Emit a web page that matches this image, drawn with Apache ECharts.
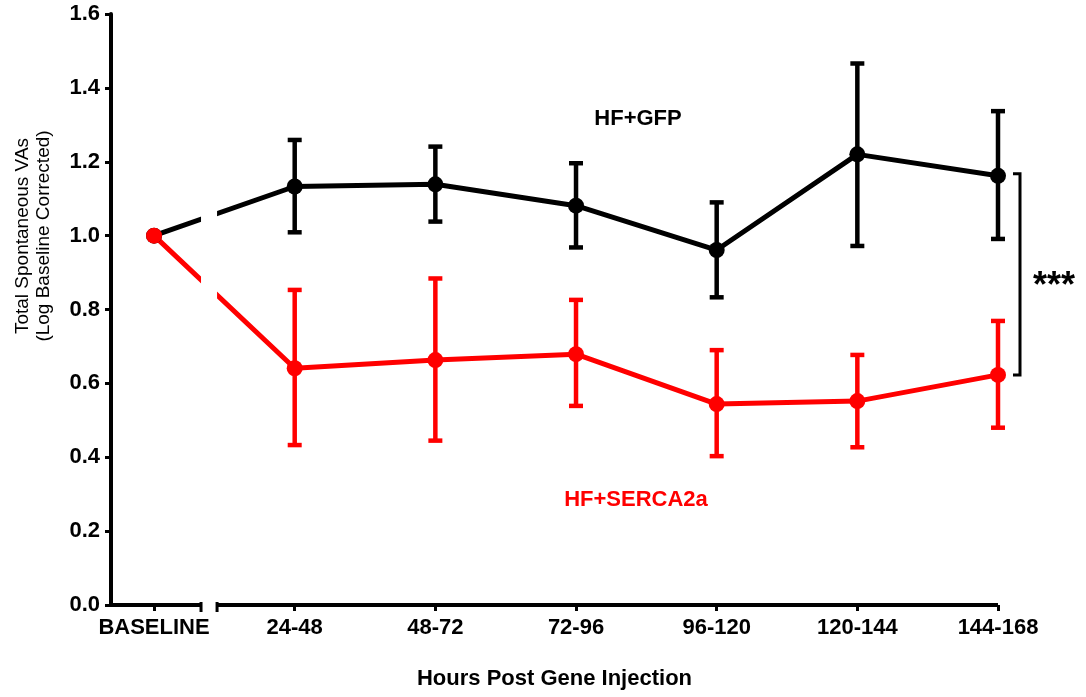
<!DOCTYPE html>
<html>
<head>
<meta charset="utf-8">
<script src="https://cdn.jsdelivr.net/npm/echarts@6/dist/echarts.min.js"></script>
<style>
  html, body { margin: 0; padding: 0; background: #fff; }
  #chart { width: 1086px; height: 697px; }
</style>
</head>
<body>
<div id="chart"></div>
<script>
// time windows (x = index, 0 is baseline)
const categories = ['BASELINE', '24-48', '48-72', '72-96', '96-120', '120-144', '144-168'];

// HF+GFP
const gfpMean = [1.0, 1.133, 1.139, 1.081, 0.961, 1.220, 1.162];
const gfpLow  = [null, 1.009, 1.038, 0.968, 0.833, 0.972, 0.991];
const gfpHigh = [null, 1.259, 1.241, 1.196, 1.090, 1.466, 1.337];

// HF+SERCA2a
const sercaMean = [1.0, 0.641, 0.663, 0.679, 0.544, 0.552, 0.623];
const sercaLow  = [null, 0.433, 0.445, 0.539, 0.403, 0.427, 0.480];
const sercaHigh = [null, 0.853, 0.884, 0.826, 0.690, 0.677, 0.769];

const FONT = "'Liberation Sans', Arial, sans-serif";
const BLACK = '#000000';
const RED = '#ff0000';

// where the x axis is broken
const X_MIN = -0.306, X_MAX = 6;
const BREAK_A = 0.334, BREAK_B = 0.448;

const xIdx = categories.map((c, i) => i);

const pts = (arr) => arr.map((v, i) => [i, v]);
const errData = (lo, hi) => xIdx.filter(i => lo[i] != null).map(i => [i, lo[i], hi[i]]);

function errRender(color) {
  return function (params, api) {
    const x = api.value(0);
    const lo = api.coord([x, api.value(1)]);
    const hi = api.coord([x, api.value(2)]);
    const w = 7;
    const style = { stroke: color, lineWidth: 4.5 };
    return {
      type: 'group',
      children: [
        { type: 'line', shape: { x1: lo[0], y1: lo[1], x2: hi[0], y2: hi[1] }, style: style },
        { type: 'line', shape: { x1: lo[0] - w, y1: lo[1], x2: lo[0] + w, y2: lo[1] }, style: style },
        { type: 'line', shape: { x1: hi[0] - w, y1: hi[1], x2: hi[0] + w, y2: hi[1] }, style: style }
      ]
    };
  };
}

const myChart = echarts.init(document.getElementById('chart'));
let option;

option = {
  animation: false,
  backgroundColor: '#fff',
  textStyle: { fontFamily: FONT },
  grid: { left: 111, right: 88, top: 14, bottom: 92, containLabel: false },
  xAxis: {
    type: 'value',
    min: X_MIN,
    max: X_MAX,
    splitLine: { show: false },
    axisLine: { show: false },
    axisTick: {
      show: true,
      customValues: xIdx,
      length: 6,
      lineStyle: { color: BLACK, width: 3 }
    },
    axisLabel: {
      customValues: xIdx,
      formatter: (v) => categories[Math.round(v)],
      color: BLACK,
      fontWeight: 'bold',
      fontSize: 22,
      fontFamily: FONT,
      margin: 12
    },
    name: 'Hours Post Gene Injection',
    nameLocation: 'middle',
    nameGap: 63,
    nameTextStyle: { color: BLACK, fontWeight: 'bold', fontSize: 22, fontFamily: FONT }
  },
  yAxis: {
    type: 'value',
    min: 0,
    max: 1.6,
    interval: 0.2,
    splitLine: { show: false },
    axisLine: { show: true, onZero: false, lineStyle: { color: BLACK, width: 4 } },
    axisTick: { show: true, length: 6, lineStyle: { color: BLACK, width: 3 } },
    axisLabel: {
      formatter: (v) => v.toFixed(1),
      color: BLACK,
      fontWeight: 'bold',
      fontSize: 22,
      fontFamily: FONT,
      margin: 11
    }
  },
  graphic: [
    {
      type: 'text',
      x: 33,
      y: 236,
      rotation: Math.PI / 2,
      style: {
        text: 'Total Spontaneous VAs\n(Log Baseline Corrected)',
        textAlign: 'center',
        textVerticalAlign: 'middle',
        font: '19px ' + FONT,
        lineHeight: 21,
        fill: BLACK
      }
    },
    {
      type: 'text',
      x: 638,
      y: 119,
      style: {
        text: 'HF+GFP',
        textAlign: 'center',
        textVerticalAlign: 'middle',
        font: 'bold 22px ' + FONT,
        fill: BLACK
      }
    },
    {
      type: 'text',
      x: 636,
      y: 500,
      style: {
        text: 'HF+SERCA2a',
        textAlign: 'center',
        textVerticalAlign: 'middle',
        font: 'bold 22px ' + FONT,
        fill: RED
      }
    }
  ],
  series: [
    {
      name: 'HF+GFP',
      type: 'line',
      data: pts(gfpMean),
      symbol: 'circle',
      symbolSize: 16,
      lineStyle: { color: BLACK, width: 5 },
      itemStyle: { color: BLACK },
      z: 2
    },
    {
      name: 'HF+SERCA2a',
      type: 'line',
      data: pts(sercaMean),
      symbol: 'circle',
      symbolSize: 16,
      lineStyle: { color: RED, width: 5 },
      itemStyle: { color: RED },
      z: 2
    },
    {
      name: 'GFP err',
      type: 'custom',
      renderItem: errRender(BLACK),
      data: errData(gfpLow, gfpHigh),
      encode: { x: 0, y: [1, 2] },
      z: 2
    },
    {
      name: 'SERCA err',
      type: 'custom',
      renderItem: errRender(RED),
      data: errData(sercaLow, sercaHigh),
      encode: { x: 0, y: [1, 2] },
      z: 2
    },
    {
      // white gap where the x axis is broken
      name: 'break mask',
      type: 'custom',
      silent: true,
      clip: false,
      data: [[BREAK_A, BREAK_B]],
      renderItem: function (params, api) {
        const a = api.coord([api.value(0), 1.6]);
        const b = api.coord([api.value(1), 0.03]);
        return { type: 'rect', shape: { x: a[0], y: a[1], width: b[0] - a[0], height: b[1] - a[1] }, style: { fill: '#fff' } };
      },
      z: 3
    },
    {
      name: 'x axis left',
      type: 'line',
      silent: true,
      clip: false,
      data: [{ value: [X_MIN, 0], symbol: 'none' }, [BREAK_A, 0]],
      symbol: 'rect',
      symbolSize: [3, 10],
      symbolOffset: [0, 2],
      lineStyle: { color: BLACK, width: 4 },
      itemStyle: { color: BLACK },
      z: 4
    },
    {
      name: 'x axis right',
      type: 'line',
      silent: true,
      clip: false,
      data: [[BREAK_B, 0], { value: [X_MAX, 0], symbol: 'none' }],
      symbol: 'rect',
      symbolSize: [3, 10],
      symbolOffset: [0, 2],
      lineStyle: { color: BLACK, width: 4 },
      itemStyle: { color: BLACK },
      z: 4
    },
    {
      // significance bracket between last points
      name: 'bracket',
      type: 'custom',
      silent: true,
      clip: false,
      data: [[X_MAX, gfpMean[6], sercaMean[6]]],
      encode: { x: 0, y: [1, 2] },
      renderItem: function (params, api) {
        const t = api.coord([api.value(0), api.value(1)]);
        const b = api.coord([api.value(0), api.value(2)]);
        const xb = t[0] + 22;
        return {
          type: 'group',
          children: [
            {
              type: 'polyline',
              shape: { points: [[xb - 7, t[1] - 2], [xb, t[1] - 2], [xb, b[1]], [xb - 7, b[1]]] },
              style: { stroke: BLACK, lineWidth: 3, fill: null }
            },
            {
              type: 'text',
              x: xb + 13,
              y: (t[1] + b[1]) / 2 + 12,
              style: {
                text: '***',
                textAlign: 'left',
                textVerticalAlign: 'middle',
                font: 'bold 36px ' + FONT,
                fill: BLACK
              }
            }
          ]
        };
      },
      z: 4
    }
  ]
};

option && myChart.setOption(option);
</script>
</body>
</html>
